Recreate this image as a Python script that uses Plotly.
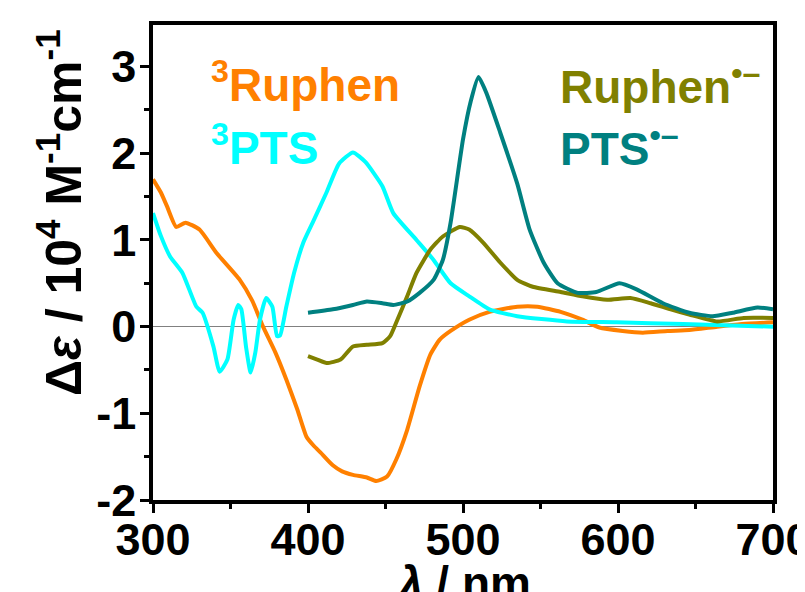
import plotly.graph_objects as go

# ---- data ----
ruphen_t_x = [300, 305, 309, 315, 321, 330, 341, 356, 364, 371, 379, 386, 393, 399, 404, 408, 416, 422, 429, 438,
              444, 451, 457, 464, 472, 479, 485, 492, 504, 517, 535, 548, 563, 577, 588, 603, 616, 632, 646, 664,
              680, 700]
ruphen_t_y = [1.70, 1.55, 1.39, 1.15, 1.20, 1.12, 0.85, 0.54, 0.30, 0.0, -0.30, -0.61, -0.95, -1.27, -1.38, -1.45,
              -1.60, -1.67, -1.71, -1.74, -1.78, -1.73, -1.53, -1.19, -0.69, -0.32, -0.15, -0.05, 0.08, 0.17, 0.23,
              0.23, 0.17, 0.08, -0.01, -0.05, -0.07, -0.05, -0.04, 0.0, 0.03, 0.05]

pts_t_x = [300, 305, 311, 319, 328, 332, 339, 343, 348, 352, 355, 357, 360, 363, 366, 369, 373, 377, 380, 382,
           386, 391, 397, 403, 412, 420, 429, 437, 448, 455, 470, 481, 492, 504, 517, 535, 567, 599, 642, 700]
pts_t_y = [1.31, 1.05, 0.81, 0.62, 0.23, 0.16, -0.23, -0.52, -0.38, 0.08, 0.25, 0.20, -0.23, -0.53, -0.30, 0.08,
           0.33, 0.23, -0.11, -0.10, 0.23, 0.62, 0.97, 1.20, 1.55, 1.88, 2.01, 1.90, 1.62, 1.31, 1.00, 0.77, 0.50,
           0.35, 0.20, 0.12, 0.06, 0.05, 0.03, 0.0]

ruphen_r_x = [400, 406, 412, 421, 429, 438, 448, 453, 457, 464, 470, 479, 487, 498, 504, 513, 524, 535, 545, 563,
              577, 593, 608, 621, 634, 646, 664, 681, 700]
ruphen_r_y = [-0.34, -0.38, -0.42, -0.38, -0.23, -0.21, -0.19, -0.11, 0.05, 0.35, 0.62, 0.89, 1.04, 1.15, 1.12,
              0.97, 0.74, 0.54, 0.46, 0.40, 0.35, 0.31, 0.33, 0.27, 0.20, 0.14, 0.06, 0.10, 0.10]

pts_r_x = [400, 416, 429, 438, 448, 455, 464, 472, 481, 487, 492, 500, 505, 510, 515, 524, 535, 543, 552, 561,
           574, 586, 601, 612, 629, 646, 661, 674, 690, 700]
pts_r_y = [0.16, 0.20, 0.25, 0.29, 0.27, 0.25, 0.29, 0.39, 0.54, 0.77, 1.20, 2.16, 2.60, 2.88, 2.70, 2.24, 1.65,
           1.12, 0.74, 0.50, 0.39, 0.40, 0.50, 0.43, 0.27, 0.16, 0.12, 0.16, 0.22, 0.20]

x_ticks = [300, 400, 500, 600, 700]
x_tick_labels = ["300", "400", "500", "600", "700"]
y_ticks = [-2, -1, 0, 1, 2, 3]
y_tick_labels = ["-2", "-1", "0", "1", "2", "3"]

ORANGE = "#FF8000"
CYAN = "#00FFFF"
OLIVE = "#808000"
TEAL = "#008080"
FONT = "Liberation Sans, Arial, sans-serif"

fig = go.Figure()
series = [
    (ruphen_t_x, ruphen_t_y, ORANGE),
    (pts_t_x, pts_t_y, CYAN),
    (ruphen_r_x, ruphen_r_y, OLIVE),
    (pts_r_x, pts_r_y, TEAL),
]
for xs, ys, c in series:
    fig.add_trace(go.Scatter(x=xs, y=ys, mode="lines",
                             line=dict(color=c, width=4, shape="spline", smoothing=0.5),
                             showlegend=False, hoverinfo="skip", cliponaxis=True))

axis_common = dict(
    showline=True, linecolor="black", linewidth=3.5, mirror=True,
    ticks="outside", ticklen=9, tickwidth=3, tickcolor="black",
    showgrid=False, automargin=False,
    tickfont=dict(family=FONT, size=45, color="black", weight="bold"),
)

# the page body adds an 8px offset, so margins are reduced accordingly
fig.update_layout(
    width=805, height=592,
    margin=dict(l=145, r=40, t=17, b=100),
    paper_bgcolor="white", plot_bgcolor="white",
    xaxis=dict(range=[300, 700], tickvals=x_ticks, ticktext=x_tick_labels,
               minor=dict(dtick=50, ticks="outside", ticklen=5, tickwidth=3, tickcolor="black"),
               zeroline=False, ticklabelstandoff=-12, **axis_common),
    yaxis=dict(range=[-2, 3.48], tickvals=y_ticks, ticktext=y_tick_labels,
               minor=dict(dtick=0.5, ticks="outside", ticklen=5, tickwidth=3, tickcolor="black"),
               zeroline=True, zerolinecolor="#808080", zerolinewidth=1, ticklabelstandoff=-5,
               **axis_common),
)

def label(x, y, text, color):
    fig.add_annotation(x=x, y=y, xref="x", yref="y", text=text, showarrow=False,
                       xanchor="left", yanchor="middle",
                       font=dict(family=FONT, size=46, color=color, weight="bold"))

label(336, 2.82, "<sup>3</sup>Ruphen", ORANGE)
label(336, 2.10, "<sup>3</sup>PTS", CYAN)
label(561, 2.80, "Ruphen<sup>\u2022\u2013</sup>", OLIVE)
label(561, 2.08, "PTS<sup>\u2022\u2013</sup>", TEAL)

# axis titles
fig.add_annotation(xref="paper", yref="paper", x=-0.15, y=0.604, textangle=-90,
                   text="\u0394<i>\u03b5</i> / 10<sup>4</sup> M<sup>-1</sup>cm<sup>-1</sup>",
                   showarrow=False, xanchor="center", yanchor="middle",
                   font=dict(family=FONT, size=50, color="black", weight="bold"))
fig.add_annotation(xref="paper", yref="paper", x=0.5, y=-0.115,
                   text="<i>\u03bb</i> / nm", showarrow=False, xanchor="center", yanchor="top",
                   font=dict(family=FONT, size=46, color="black", weight="bold"))

fig.write_html("out.html")
